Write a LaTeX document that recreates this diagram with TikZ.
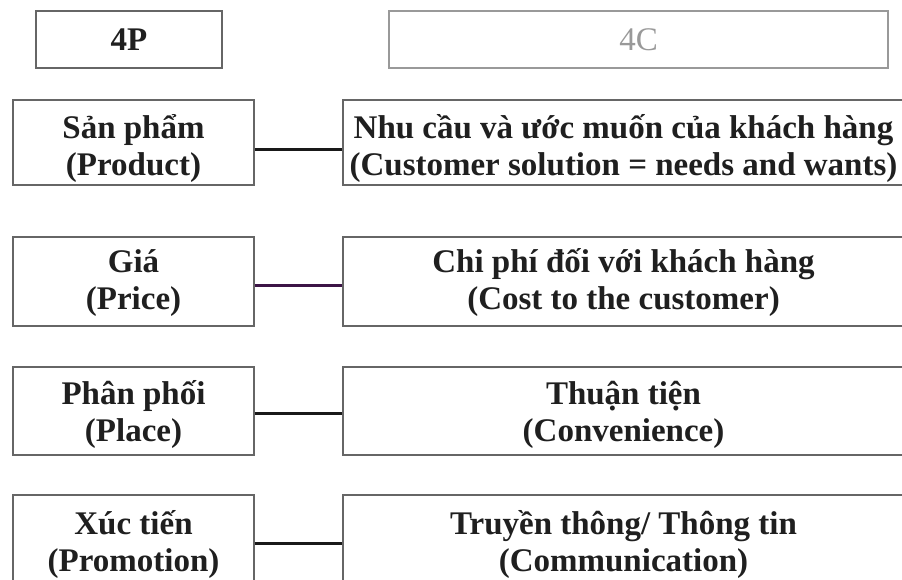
\documentclass[tikz,border=0pt]{standalone}
\usepackage{fontspec}
\setmainfont{Liberation Serif}
\begin{document}
\begin{tikzpicture}[x=1pt,y=-1pt,
  boxstyle/.style={draw=black!60, line width=1.6pt, rectangle, inner sep=0pt},
  leftbox/.style={boxstyle, minimum width=241pt},
  rightbox/.style={boxstyle, minimum width=561pt},
  txt/.style={align=center, inner sep=0pt, text=black!88, font=\fontsize{33}{37}\selectfont\bfseries},
  link/.style={line width=3pt, draw=black!90}
]
\useasboundingbox (0,0) rectangle (902,580);
\fill[white] (0,0) rectangle (902,580);

\node[boxstyle, txt, minimum width=186pt, minimum height=57pt] (h4p) at (129,39.5) {4P};
\node[boxstyle, txt, draw=black!40, text=black!40, font=\fontsize{33}{36}\selectfont, minimum width=499pt, minimum height=57pt] (h4c) at (638.5,39.5) {4C};

\node[leftbox, minimum height=85pt] (p1) at (133.5,142.5) {};
\node[rightbox, minimum height=85pt] (c1) at (623.5,142.5) {};
\node[txt] (tp1) at (133.5,149) {Sản phẩm\\(Product)};
\node[txt] (tc1) at (623.5,149) {Nhu cầu và ước muốn của khách hàng\\(Customer solution = needs and wants)};

\node[leftbox, minimum height=89pt] (p2) at (133.5,281.5) {};
\node[rightbox, minimum height=89pt] (c2) at (623.5,281.5) {};
\node[txt] (tp2) at (133.5,283) {Giá\\(Price)};
\node[txt] (tc2) at (623.5,283) {Chi phí đối với khách hàng\\(Cost to the customer)};

\node[leftbox, minimum height=88pt] (p3) at (133.5,411) {};
\node[rightbox, minimum height=88pt] (c3) at (623.5,411) {};
\node[txt] (tp3) at (133.5,415) {Phân phối\\(Place)};
\node[txt] (tc3) at (623.5,415) {Thuận tiện\\(Convenience)};

\node[leftbox, minimum height=88pt] (p4) at (133.5,539) {};
\node[rightbox, minimum height=88pt] (c4) at (623.5,539) {};
\node[txt] (tp4) at (133.5,545) {Xúc tiến\\(Promotion)};
\node[txt] (tc4) at (623.5,545) {Truyền thông/ Thông tin\\(Communication)};

\draw[link] ([yshift=-7pt]p1.east) -- ([yshift=-7pt]c1.west);
\draw[link, draw={rgb,255:red,60;green,20;blue,70}] ([yshift=-4pt]p2.east) -- ([yshift=-4pt]c2.west);
\draw[link] ([yshift=-2pt]p3.east) -- ([yshift=-2pt]c3.west);
\draw[link] ([yshift=-4pt]p4.east) -- ([yshift=-4pt]c4.west);
\end{tikzpicture}
\end{document}
